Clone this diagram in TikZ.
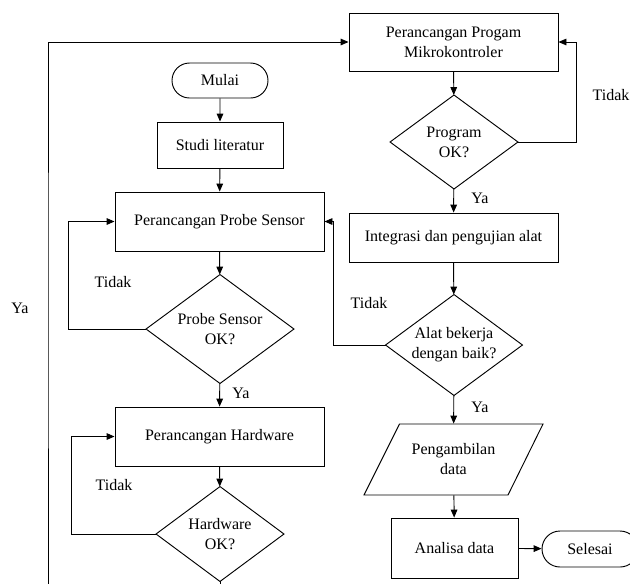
\documentclass[tikz,border=0pt]{standalone}
\usepackage{fontspec}
\setmainfont{Liberation Serif}
\usetikzlibrary{arrows.meta,shapes.misc}
\begin{document}
\begin{tikzpicture}[x=0.75pt,y=-0.75pt,
  font=\fontsize{12}{15}\selectfont,
  line width=0.7pt,
  box/.style={draw, rectangle, align=center, inner sep=0pt},
  term/.style={draw, rounded rectangle, align=center, inner sep=0pt},
  dec/.style={rectangle, align=center, inner sep=0pt},
  arr/.style={-{Triangle[length=6pt,width=5pt]}},
  lab/.style={inner sep=0pt}]
\useasboundingbox (0,0) rectangle (630,583);
\fill[white] (0,0) rectangle (630,583);
\clip (0,0) rectangle (630,583);

% left column
\node[term, minimum width=72pt, minimum height=26.25pt] (start) at (220,80.5) {Mulai};
\node[box, minimum width=94.5pt, minimum height=34.5pt] (studi) at (220,145) {Studi literatur};
\node[box, minimum width=156.75pt, minimum height=44.25pt] (probe) at (219.5,221.5) {Perancangan Probe Sensor};
\node[dec, minimum width=110.25pt, minimum height=81pt] (dprobe) at (220,329) {Probe Sensor\\OK?};
\node[box, minimum width=156.75pt, minimum height=44.25pt] (hw) at (219.5,436.5) {Perancangan Hardware};
\node[dec, minimum width=95.25pt, minimum height=70.5pt] (dhw) at (220,534) {Hardware\\OK?};

% right column
\node[box, minimum width=156.75pt, minimum height=43.5pt] (prog) at (453.5,42) {Perancangan Progam\\Mikrokontroler};
\node[dec, minimum width=95.25pt, minimum height=69.75pt] (dprog) at (454,142) {Program\\OK?};
\node[box, minimum width=156.75pt, minimum height=36.75pt] (integ) at (453.5,237.5) {Integrasi dan pengujian alat};
\node[dec, minimum width=102pt, minimum height=75pt] (dalat) at (454,345) {Alat bekerja\\dengan baik?};
\node[dec, minimum width=108pt, minimum height=53.25pt] (data) at (453.5,459.5) {Pengambilan\\data};
\node[box, minimum width=95.25pt, minimum height=45pt] (anal) at (454.5,548) {Analisa data};
\node[term, minimum width=72pt, minimum height=27pt] (end) at (590,549) {Selesai};

% decision diamonds and parallelogram
\foreach \n in {dprobe,dhw,dprog,dalat}
  \draw (\n.north) -- (\n.east) -- (\n.south) -- (\n.west) -- cycle;
\draw (399.5,424) -- (543,424) -- (508,495) -- (364,495) -- cycle;

% connectors
\draw[arr] (start) -- (studi);
\draw[arr] (studi) -- (probe);
\draw[arr] (probe) -- (dprobe);
\draw[arr] (dprobe) -- (hw);
\draw[arr] (hw) -- (dhw);
\draw[arr] (dprobe.west) -- (68,329) |- (probe.west);
\draw[arr] (dhw.west) -- (71,534) |- (hw.west);
\draw[arr] (dhw.south) -- (220,600) -| (48,300) |- (prog.west);
\draw[arr] (prog) -- (dprog);
\draw[arr] (dprog.east) -- (576,142) |- (prog.east);
\draw[arr] (dprog) -- (integ);
\draw[arr] (integ) -- (dalat);
\draw[arr] (dalat.west) -- (333,345) |- (probe.east);
\draw[arr] (dalat) -- (data);
\draw[arr] (data) -- (anal);
\draw[arr] (anal) -- (end);

% labels
\node[lab] at (20,308) {Ya};
\node[lab] at (113,282) {Tidak};
\node[lab] at (241,393) {Ya};
\node[lab] at (114,485) {Tidak};
\node[lab] at (611,95) {Tidak};
\node[lab] at (480,198) {Ya};
\node[lab] at (369,303) {Tidak};
\node[lab] at (480,407) {Ya};
\end{tikzpicture}
\end{document}
